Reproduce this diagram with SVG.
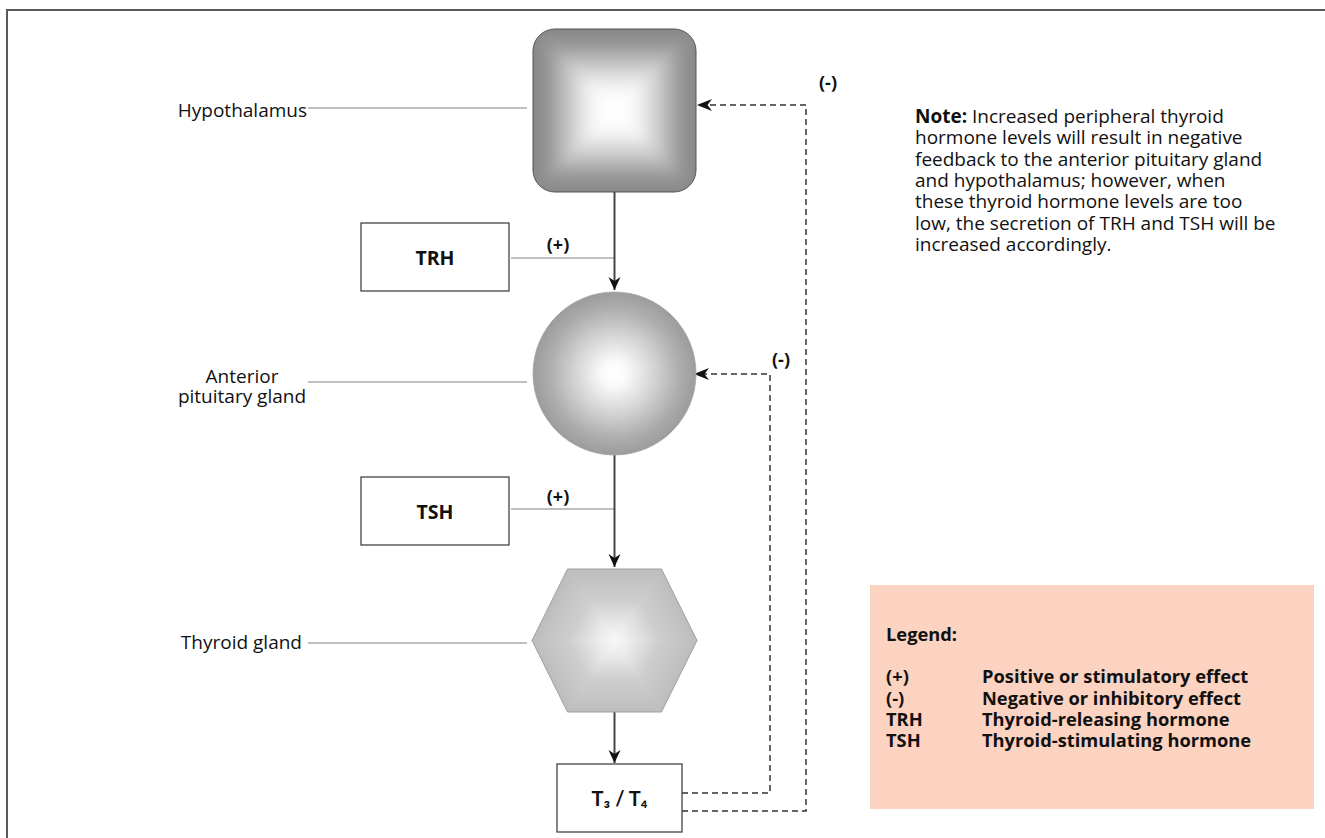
<svg xmlns="http://www.w3.org/2000/svg" xmlns:xlink="http://www.w3.org/1999/xlink" width="1325" height="838" viewBox="0 0 1325 838">
<style>
  text { font-family: "Open Sans", "Noto Sans", "Liberation Sans", sans-serif; fill: #111; }
  .lbl { font-size: 19px; }
  .box { fill: #fff; stroke: #444; stroke-width: 1.3; }
  .hname { font-size: 19.5px; font-weight: bold; text-anchor: middle; }
  .sub { font-family: Lato, "DejaVu Sans", sans-serif; font-size: 20px; font-weight: bold; text-anchor: middle; }
  .sign { font-size: 18px; font-weight: bold; text-anchor: middle; }
  .note { font-size: 19px; }
  .leg { font-size: 18.3px; font-weight: bold; }
  .lead { stroke: #aaa; stroke-width: 1.5; fill: none; }
  .flow { stroke: #444; stroke-width: 2; fill: none; }
  .fb { stroke: #333; stroke-width: 1.5; stroke-dasharray: 6 4; fill: none; }
  .tri { shape-rendering: crispEdges; }
</style>
<defs>
  <linearGradient id="hypBase">
    <stop offset="0" stop-color="#868686"/>
    <stop offset="0.2" stop-color="#989898"/>
    <stop offset="0.45" stop-color="#c9c9c9"/>
    <stop offset="0.7" stop-color="#f2f2f2"/>
    <stop offset="0.88" stop-color="#ffffff"/>
    <stop offset="1" stop-color="#ffffff"/>
  </linearGradient>
  <linearGradient id="hypT" xlink:href="#hypBase" gradientUnits="userSpaceOnUse" x1="614.5" y1="29" x2="614.5" y2="110.5"/>
  <linearGradient id="hypB" xlink:href="#hypBase" gradientUnits="userSpaceOnUse" x1="614.5" y1="192" x2="614.5" y2="110.5"/>
  <linearGradient id="hypL" xlink:href="#hypBase" gradientUnits="userSpaceOnUse" x1="533" y1="110.5" x2="614.5" y2="110.5"/>
  <linearGradient id="hypR" xlink:href="#hypBase" gradientUnits="userSpaceOnUse" x1="696" y1="110.5" x2="614.5" y2="110.5"/>
  <clipPath id="hypClip"><rect x="533" y="29" width="163" height="163" rx="22"/></clipPath>
  <filter id="soft" x="-20%" y="-20%" width="140%" height="140%">
    <feGaussianBlur stdDeviation="6"/>
  </filter>

  <radialGradient id="pitGrad" gradientUnits="userSpaceOnUse" cx="614.5" cy="373.5" r="81.5">
    <stop offset="0" stop-color="#ffffff"/>
    <stop offset="0.15" stop-color="#fafafa"/>
    <stop offset="0.5" stop-color="#d2d2d2"/>
    <stop offset="0.8" stop-color="#adadad"/>
    <stop offset="1" stop-color="#9c9c9c"/>
  </radialGradient>

  <linearGradient id="thyBase">
    <stop offset="0" stop-color="#bdbdbd"/>
    <stop offset="0.45" stop-color="#cecece"/>
    <stop offset="0.8" stop-color="#ebebeb"/>
    <stop offset="1" stop-color="#f8f8f8"/>
  </linearGradient>
  <linearGradient id="thy1" xlink:href="#thyBase" gradientUnits="userSpaceOnUse" x1="614.5" y1="569" x2="614.5" y2="640.5"/>
  <linearGradient id="thy2" xlink:href="#thyBase" gradientUnits="userSpaceOnUse" x1="680.7" y1="607.6" x2="614.5" y2="640.5"/>
  <linearGradient id="thy3" xlink:href="#thyBase" gradientUnits="userSpaceOnUse" x1="680.7" y1="673.4" x2="614.5" y2="640.5"/>
  <linearGradient id="thy4" xlink:href="#thyBase" gradientUnits="userSpaceOnUse" x1="614.5" y1="712" x2="614.5" y2="640.5"/>
  <linearGradient id="thy5" xlink:href="#thyBase" gradientUnits="userSpaceOnUse" x1="548.3" y1="673.4" x2="614.5" y2="640.5"/>
  <linearGradient id="thy6" xlink:href="#thyBase" gradientUnits="userSpaceOnUse" x1="548.3" y1="607.6" x2="614.5" y2="640.5"/>

  <marker id="arr" viewBox="-14 -7 16 14" refX="0" refY="0" markerWidth="16" markerHeight="14" markerUnits="userSpaceOnUse" orient="auto">
    <path d="M0,0 L-13,-6 L-9,0 L-13,6 Z" fill="#111"/>
  </marker>
  <marker id="arrd" viewBox="-16 -7 18 14" refX="0" refY="0" markerWidth="18" markerHeight="14" markerUnits="userSpaceOnUse" orient="auto">
    <path d="M0,0 L-15,-6 L-10.5,0 L-15,6 Z" fill="#111"/>
  </marker>
</defs>

<rect width="1325" height="838" fill="#fff"/>
<path d="M7,838 V10 H1325" fill="none" stroke="#5a5a5a" stroke-width="2"/>

<g id="connectors">
  <line class="lead" x1="308" y1="108" x2="527" y2="108"/>
  <line class="lead" x1="308" y1="382" x2="527" y2="382"/>
  <line class="lead" x1="308" y1="643" x2="527" y2="643"/>
  <line class="lead" x1="511" y1="258" x2="614" y2="258" stroke="#999"/>
  <line class="lead" x1="511" y1="509" x2="614" y2="509" stroke="#999"/>
  <line class="flow" x1="614.5" y1="192" x2="614.5" y2="290" marker-end="url(#arr)"/>
  <line class="flow" x1="614.5" y1="454" x2="614.5" y2="567" marker-end="url(#arr)"/>
  <line class="flow" x1="614.5" y1="712" x2="614.5" y2="763" marker-end="url(#arr)"/>
  <path class="fb" d="M682,811 H806 V105 H697" marker-end="url(#arrd)"/>
  <path class="fb" d="M682,793 H770 V374 H694" marker-end="url(#arrd)"/>
  <text class="sign" x="558" y="251">(+)</text>
  <text class="sign" x="558" y="503">(+)</text>
  <text class="sign" x="828" y="89">(-)</text>
  <text class="sign" x="781" y="366">(-)</text>
</g>

<g id="hypothalamus">
  <g clip-path="url(#hypClip)">
    <g filter="url(#soft)">
      <rect x="518" y="14" width="193" height="193" fill="#868686"/>
      <polygon class="tri" points="533,29 696,29 614.5,110.5" fill="url(#hypT)"/>
      <polygon class="tri" points="696,29 696,192 614.5,110.5" fill="url(#hypR)"/>
      <polygon class="tri" points="696,192 533,192 614.5,110.5" fill="url(#hypB)"/>
      <polygon class="tri" points="533,192 533,29 614.5,110.5" fill="url(#hypL)"/>
    </g>
  </g>
  <rect x="533" y="29" width="163" height="163" rx="22" fill="none" stroke="#555" stroke-width="1"/>
  <text class="lbl" x="307" y="117" text-anchor="end">Hypothalamus</text>
</g>

<g id="trh">
  <rect class="box" x="361" y="223" width="148" height="68"/>
  <text class="hname" x="435" y="265">TRH</text>
</g>

<g id="anterior-pituitary">
  <circle cx="614.5" cy="373.5" r="81.5" fill="url(#pitGrad)" stroke="#a5a5a5" stroke-width="0.8"/>
  <text class="lbl" x="242" y="383" text-anchor="middle">Anterior</text>
  <text class="lbl" x="242" y="403" text-anchor="middle">pituitary gland</text>
</g>

<g id="tsh">
  <rect class="box" x="361" y="477" width="148" height="68"/>
  <text class="hname" x="435" y="519">TSH</text>
</g>

<g id="thyroid">
  <polygon class="tri" points="567.5,569 661.5,569 614.5,640.5" fill="url(#thy1)"/>
  <polygon class="tri" points="661.5,569 697,640.5 614.5,640.5" fill="url(#thy2)"/>
  <polygon class="tri" points="697,640.5 661.5,712 614.5,640.5" fill="url(#thy3)"/>
  <polygon class="tri" points="661.5,712 567.5,712 614.5,640.5" fill="url(#thy4)"/>
  <polygon class="tri" points="567.5,712 532,640.5 614.5,640.5" fill="url(#thy5)"/>
  <polygon class="tri" points="532,640.5 567.5,569 614.5,640.5" fill="url(#thy6)"/>
  <polygon points="567.5,569 661.5,569 697,640.5 661.5,712 567.5,712 532,640.5" fill="none" stroke="#a0a0a0" stroke-width="1"/>
  <text class="lbl" x="302" y="649" text-anchor="end">Thyroid gland</text>
</g>

<g id="t3t4">
  <rect class="box" x="557" y="764" width="125" height="68"/>
  <text class="sub" x="619.5" y="806">T₃ / T₄</text>
</g>

<g id="note">
  <text class="note" x="915" y="123"><tspan font-weight="bold">Note:</tspan> Increased peripheral thyroid</text>
  <text class="note" x="915" y="144.3">hormone levels will result in negative</text>
  <text class="note" x="915" y="165.6">feedback to the anterior pituitary gland</text>
  <text class="note" x="915" y="186.9">and hypothalamus; however, when</text>
  <text class="note" x="915" y="208.2">these thyroid hormone levels are too</text>
  <text class="note" x="915" y="229.5">low, the secretion of TRH and TSH will be</text>
  <text class="note" x="915" y="250.8">increased accordingly.</text>
</g>

<g id="legend">
  <rect x="870" y="585" width="444" height="224" fill="#fcd3c1"/>
  <text class="leg" x="886" y="641">Legend:</text>
  <text class="leg" x="886" y="683">(+)</text>
  <text class="leg" x="982" y="683">Positive or stimulatory effect</text>
  <text class="leg" x="886" y="704.5">(-)</text>
  <text class="leg" x="982" y="704.5">Negative or inhibitory effect</text>
  <text class="leg" x="886" y="726">TRH</text>
  <text class="leg" x="982" y="726">Thyroid-releasing hormone</text>
  <text class="leg" x="886" y="747">TSH</text>
  <text class="leg" x="982" y="747">Thyroid-stimulating hormone</text>
</g>
</svg>
